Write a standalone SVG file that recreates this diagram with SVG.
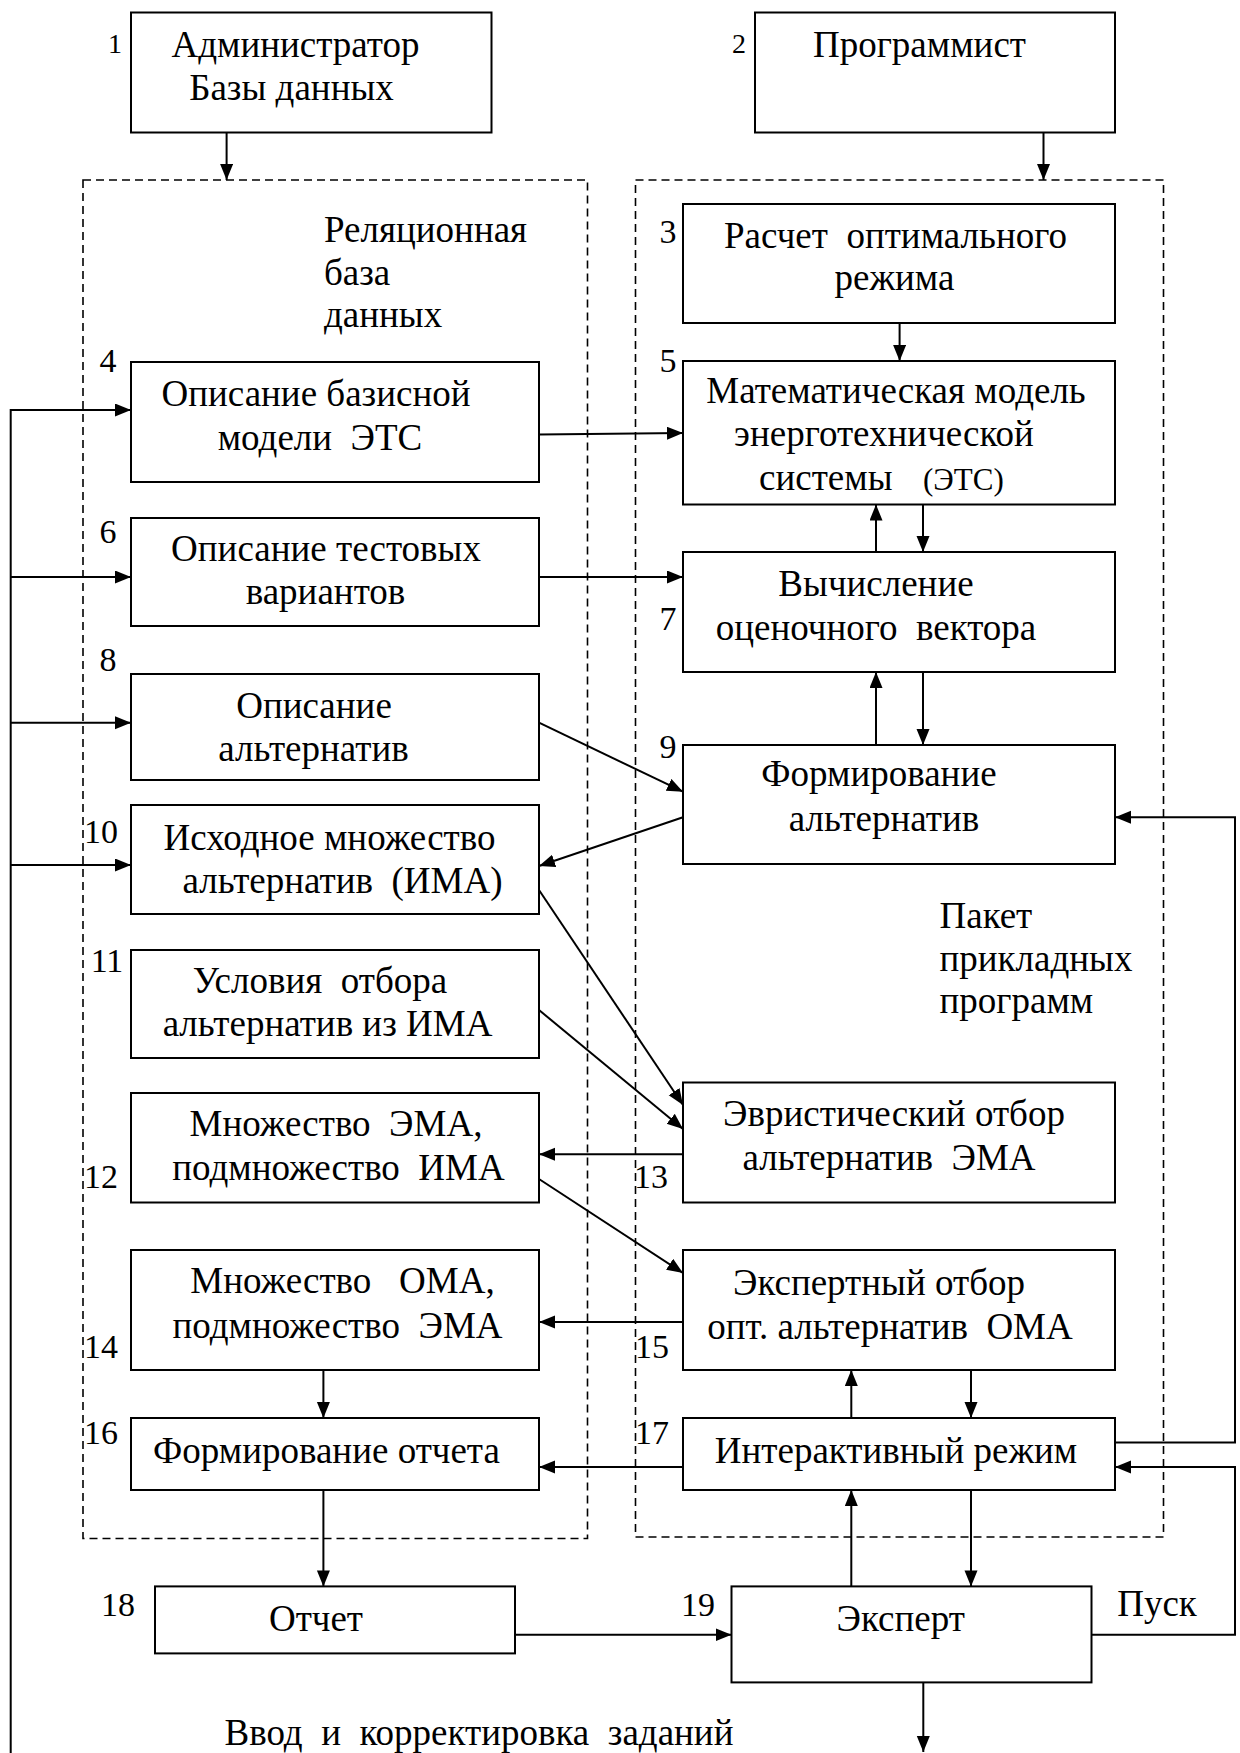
<svg xmlns="http://www.w3.org/2000/svg" width="1240" height="1753" viewBox="0 0 1240 1753">
<style>
.bg{fill:#fff}
.box{fill:#fff;stroke:#000;stroke-width:2}
.dash{fill:none;stroke:#000;stroke-width:1.6;stroke-dasharray:8 5}
.ln{fill:none;stroke:#000;stroke-width:2}
.arr{marker-end:url(#ah)}
text{font-family:"Liberation Serif","Times New Roman",serif;fill:#000;white-space:pre}
.t{font-size:37px;text-anchor:middle}
.s{font-size:37px;text-anchor:start}
.n{font-size:34px;text-anchor:middle}
.n2{font-size:28px;text-anchor:middle}
.sm{font-size:31px;text-anchor:start}
</style>
<defs>
<marker id="ah" markerUnits="userSpaceOnUse" markerWidth="17" markerHeight="14" refX="16" refY="6.5" orient="auto" viewBox="0 0 17 14">
<path d="M0,0 L16,6.5 L0,13 z" fill="#000"/>
</marker>
</defs>
<rect class="bg" x="0" y="0" width="1240" height="1753"/>

<g id="containers">
<rect id="rdb" class="dash" x="83" y="180" width="504.5" height="1358.5"/>
<rect id="ppp" class="dash" x="635.5" y="180" width="528" height="1357"/>
<text class="s" x="324" y="242">Реляционная</text>
<text class="s" x="324" y="285">база</text>
<text class="s" x="324" y="327">данных</text>
<text class="s" x="939.5" y="928">Пакет</text>
<text class="s" x="939.5" y="971">прикладных</text>
<text class="s" x="939.5" y="1013">программ</text>
</g>

<g id="connectors">
<path class="ln arr" d="M226.6,132.5 V180"/>
<path class="ln arr" d="M1043.5,132.5 V180"/>
<path class="ln arr" d="M899.6,323 V361"/>
<path class="ln arr" d="M539,434.5 L683,433"/>
<path class="ln arr" d="M539,577 H683"/>
<path class="ln arr" d="M876,552 V504.5"/>
<path class="ln arr" d="M923,504.5 V552"/>
<path class="ln arr" d="M876,745 V672"/>
<path class="ln arr" d="M923,672 V745"/>
<path class="ln arr" d="M539,722.7 L683,791.7"/>
<path class="ln arr" d="M683,817.3 L539,866"/>
<path class="ln arr" d="M539,890 L683,1105"/>
<path class="ln arr" d="M539,1010 L683,1129"/>
<path class="ln arr" d="M683,1154.3 H539"/>
<path class="ln arr" d="M539,1179 L683,1273"/>
<path class="ln arr" d="M683,1322 H539"/>
<path class="ln arr" d="M323.4,1370 V1418"/>
<path class="ln arr" d="M851.3,1418 V1370"/>
<path class="ln arr" d="M971,1370 V1418"/>
<path class="ln arr" d="M683,1467 H539"/>
<path class="ln arr" d="M1115,1442.6 H1235 V817.3 H1115"/>
<path class="ln arr" d="M1091.5,1634.7 H1235 V1467 H1115"/>
<path class="ln arr" d="M851.3,1586.4 V1490"/>
<path class="ln arr" d="M971,1490 V1586.4"/>
<path class="ln arr" d="M323.4,1490 V1586.4"/>
<path class="ln arr" d="M515,1634.7 H731.5"/>
<path class="ln arr" d="M923.3,1682.3 V1752"/>
<path class="ln arr" d="M10.7,1753 V410 H131"/>
<path class="ln arr" d="M10.7,577 H131"/>
<path class="ln arr" d="M10.7,722.7 H131"/>
<path class="ln arr" d="M10.7,865 H131"/>
<text class="t" x="1157" y="1616">Пуск</text>
<text class="t" x="479" y="1745">Ввод  и  корректировка  заданий</text>
</g>

<g id="n1">
<rect class="box" x="131" y="12.5" width="360.5" height="120"/>
<text class="n2" x="115" y="53">1</text>
<text class="t" x="295.5" y="57">Администратор</text>
<text class="t" x="291.5" y="100">Базы данных</text>
</g>
<g id="n2">
<rect class="box" x="755" y="12.5" width="360" height="120"/>
<text class="n2" x="739" y="53">2</text>
<text class="t" x="919.5" y="57">Программист</text>
</g>
<g id="n3">
<rect class="box" x="683" y="204" width="432" height="119"/>
<text class="n" x="668" y="243">3</text>
<text class="t" x="895.5" y="248">Расчет  оптимального</text>
<text class="t" x="894.5" y="290">режима</text>
</g>
<g id="n4">
<rect class="box" x="131" y="362" width="408" height="120"/>
<text class="n" x="108" y="372">4</text>
<text class="t" x="316" y="406">Описание базисной</text>
<text class="t" x="320" y="450">модели  ЭТС</text>
</g>
<g id="n5">
<rect class="box" x="683" y="361" width="432" height="143.5"/>
<text class="n" x="668" y="372">5</text>
<text class="t" x="896" y="403">Математическая модель</text>
<text class="t" x="884" y="446">энерготехнической</text>
<text class="s" x="759" y="490">системы</text>
<text class="sm" x="923" y="490">(ЭТС)</text>
</g>
<g id="n6">
<rect class="box" x="131" y="518" width="408" height="108"/>
<text class="n" x="108" y="543">6</text>
<text class="t" x="326" y="561">Описание тестовых</text>
<text class="t" x="325.5" y="604">вариантов</text>
</g>
<g id="n7">
<rect class="box" x="683" y="552" width="432" height="120"/>
<text class="n" x="668" y="630">7</text>
<text class="t" x="876" y="596">Вычисление</text>
<text class="t" x="876" y="640">оценочного  вектора</text>
</g>
<g id="n8">
<rect class="box" x="131" y="674" width="408" height="106"/>
<text class="n" x="108" y="671">8</text>
<text class="t" x="314" y="718">Описание</text>
<text class="t" x="313.5" y="761">альтернатив</text>
</g>
<g id="n9">
<rect class="box" x="683" y="745" width="432" height="119"/>
<text class="n" x="668" y="758">9</text>
<text class="t" x="879" y="786">Формирование</text>
<text class="t" x="884" y="831">альтернатив</text>
</g>
<g id="n10">
<rect class="box" x="131" y="805" width="408" height="109"/>
<text class="n" x="101" y="843">10</text>
<text class="t" x="329.5" y="850">Исходное множество</text>
<text class="t" x="342.5" y="893">альтернатив  (ИМА)</text>
</g>
<g id="n11">
<rect class="box" x="131" y="950" width="408" height="108"/>
<text class="n" x="107" y="972">11</text>
<text class="t" x="320" y="993">Условия  отбора</text>
<text class="t" x="327.5" y="1036">альтернатив из ИМА</text>
</g>
<g id="n12">
<rect class="box" x="131" y="1093" width="408" height="109.5"/>
<text class="n" x="101" y="1188">12</text>
<text class="t" x="336" y="1136">Множество  ЭМА,</text>
<text class="t" x="338.5" y="1180">подмножество  ИМА</text>
</g>
<g id="n13">
<rect class="box" x="683" y="1082.5" width="432" height="120"/>
<text class="n" x="651" y="1188">13</text>
<text class="t" x="894" y="1126">Эвристический отбор</text>
<text class="t" x="889" y="1170">альтернатив  ЭМА</text>
</g>
<g id="n14">
<rect class="box" x="131" y="1250" width="408" height="120"/>
<text class="n" x="101" y="1358">14</text>
<text class="t" x="342.5" y="1293">Множество   ОМА,</text>
<text class="t" x="337.5" y="1338">подмножество  ЭМА</text>
</g>
<g id="n15">
<rect class="box" x="683" y="1250" width="432" height="120"/>
<text class="n" x="652" y="1358">15</text>
<text class="t" x="879" y="1295">Экспертный отбор</text>
<text class="t" x="890" y="1339">опт. альтернатив  ОМА</text>
</g>
<g id="n16">
<rect class="box" x="131" y="1418" width="408" height="72"/>
<text class="n" x="101" y="1444">16</text>
<text class="t" x="326.5" y="1463">Формирование отчета</text>
</g>
<g id="n17">
<rect class="box" x="683" y="1418" width="432" height="72"/>
<text class="n" x="652" y="1444">17</text>
<text class="t" x="896" y="1463">Интерактивный режим</text>
</g>
<g id="n18">
<rect class="box" x="155" y="1586.4" width="360" height="67"/>
<text class="n" x="118" y="1616">18</text>
<text class="t" x="316" y="1631">Отчет</text>
</g>
<g id="n19">
<rect class="box" x="731.5" y="1586.4" width="360" height="96"/>
<text class="n" x="698" y="1616">19</text>
<text class="t" x="900.7" y="1631">Эксперт</text>
</g>
</svg>
